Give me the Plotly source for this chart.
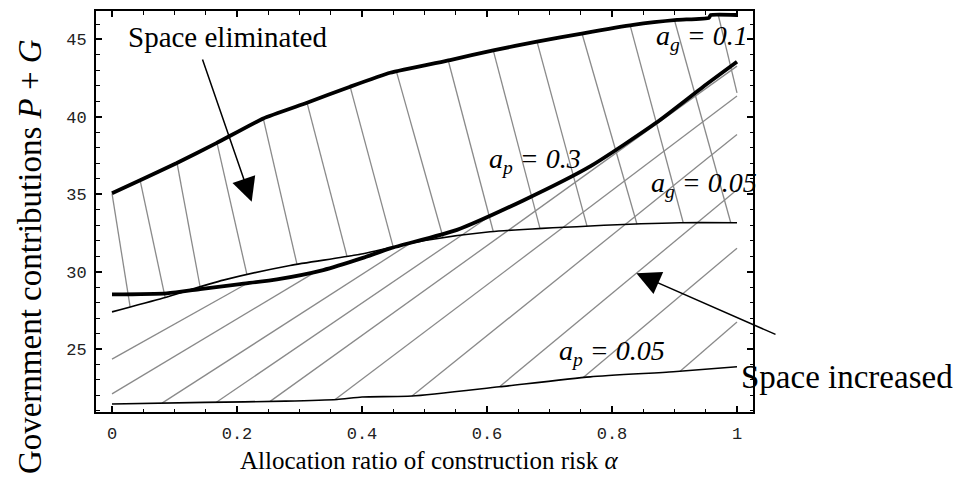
import numpy as np
import plotly.graph_objects as go

# ---------------- data ----------------
# upper thick curve  a_g = 0.1
alpha_ag01 = [0.0, 0.045, 0.103, 0.167, 0.242, 0.311, 0.381, 0.445, 0.541, 0.61, 0.68, 0.754, 0.834, 0.904, 0.955, 0.958, 1.0]
pg_ag01 = [35.06, 35.9, 37.0, 38.3, 39.9, 40.9, 41.95, 42.85, 43.67, 44.3, 44.86, 45.4, 45.94, 46.26, 46.4, 46.58, 46.58]

# thick curve a_p = 0.3
alpha_ap03 = [0.0, 0.0875, 0.141, 0.205, 0.264, 0.338, 0.40, 0.445, 0.552, 0.658, 0.765, 0.87, 0.946, 1.0]
pg_ap03 = [28.53, 28.6, 28.87, 29.2, 29.5, 30.1, 30.87, 31.5, 32.7, 34.6, 36.8, 39.6, 41.95, 43.56]

# thin curve a_g = 0.05
alpha_ag005 = [0.0, 0.082, 0.178, 0.285, 0.39, 0.498, 0.605, 0.765, 0.909, 1.0]
pg_ag005 = [27.4, 28.3, 29.45, 30.4, 31.07, 32.0, 32.58, 32.95, 33.16, 33.16]

# thin curve a_p = 0.05
alpha_ap005 = [0.0, 0.149, 0.277, 0.36, 0.40, 0.48, 0.62, 0.765, 0.898, 1.0]
pg_ap005 = [21.45, 21.55, 21.63, 21.74, 21.9, 21.96, 22.56, 23.2, 23.53, 23.85]

# steep hatching ("space eliminated"): alpha where each line meets a_g=0.1 and a_g=0.05
hatch_elim_top = [0.0, 0.045, 0.104, 0.168, 0.242, 0.312, 0.381, 0.455, 0.538, 0.61, 0.68, 0.752, 0.829, 0.9, 0.97]
hatch_elim_bot = [0.029, 0.085, 0.141, 0.216, 0.296, 0.376, 0.45, 0.53, 0.61, 0.685, 0.76, 0.84, 0.914, 0.99, 1.05]

# rising hatching ("space increased"): start alpha, start value (None = on a_p=0.05), slope (per unit alpha)
hatch_inc_start_alpha = [0.0, 0.0, 0.08, 0.167, 0.253, 0.357, 0.48, 0.62, 0.754, 0.909]
hatch_inc_start_pg = [24.35, 22.1, None, None, None, None, None, None, None, None]
hatch_inc_slope = [22.6, 24.2, 26.0, 27.5, 29.0, 30.5, 32.5, 33.5, 34.0, 35.0]

x_tickvals = [0, 0.2, 0.4, 0.6, 0.8, 1]
y_tickvals = [25, 30, 35, 40, 45]

# ---------------- build hatch segments ----------------
def interp(xs, ys, x):
    return float(np.interp(x, xs, ys))

hx, hy = [], []
for xt, xb in zip(hatch_elim_top, hatch_elim_bot):
    yt = interp(alpha_ag01, pg_ag01, xt)
    yb = interp(alpha_ag005, pg_ag005, xb)
    if xb > 1.0:
        t = (1.0 - xt) / (xb - xt)
        yb = yt + t * (yb - yt)
        xb = 1.0
    hx += [xt, xb, None]
    hy += [yt, yb, None]

grid = np.linspace(0, 1, 2001)
thick = np.interp(grid, alpha_ap03, pg_ap03)
for xs, ys, m in zip(hatch_inc_start_alpha, hatch_inc_start_pg, hatch_inc_slope):
    if ys is None:
        ys = interp(alpha_ap005, pg_ap005, xs)
    mask = grid >= xs
    g = grid[mask]
    line = ys + m * (g - xs)
    above = np.nonzero(line >= thick[mask])[0]
    xe = float(g[above[0]]) if len(above) else 1.0
    ye = ys + m * (xe - xs)
    hx += [xs, xe, None]
    hy += [ys, ye, None]

fig = go.Figure()
fig.add_trace(go.Scatter(x=hx, y=hy, mode="lines", line=dict(color="#8a8a8a", width=1.3),
                         hoverinfo="skip", showlegend=False))
fig.add_trace(go.Scatter(x=alpha_ap005, y=pg_ap005, mode="lines",
                         line=dict(color="black", width=1.6, shape="spline", smoothing=0.6), showlegend=False))
fig.add_trace(go.Scatter(x=alpha_ag005, y=pg_ag005, mode="lines",
                         line=dict(color="black", width=1.6, shape="spline", smoothing=0.6), showlegend=False))
fig.add_trace(go.Scatter(x=alpha_ap03, y=pg_ap03, mode="lines",
                         line=dict(color="black", width=3.8, shape="spline", smoothing=0.6), showlegend=False))
fig.add_trace(go.Scatter(x=alpha_ag01, y=pg_ag01, mode="lines",
                         line=dict(color="black", width=3.8, shape="spline", smoothing=0.4), showlegend=False))

serif = "Liberation Serif, Times New Roman, serif"
ann = []
def text(x, y, s, size, xanchor="center", xref="x", yref="y", angle=0):
    ann.append(dict(x=x, y=y, xref=xref, yref=yref, text=s, showarrow=False, xanchor=xanchor,
                    yanchor="middle", textangle=angle, font=dict(family=serif, size=size, color="black")))

text(0.184, 45.16, "Space eliminated", 29)
text(1.003, 23.18, "Space increased", 33, xanchor="left")
text(0.944, 45.1, "<i>a<sub>g</sub> = 0.1</i>", 28)
text(0.677, 37.2, "<i>a<sub>p</sub> = 0.3</i>", 28)
text(0.947, 35.6, "<i>a<sub>g</sub> = 0.05</i>", 28)
text(0.80, 24.8, "<i>a<sub>p</sub> = 0.05</i>", 28)
text(0.508, -0.12, "Allocation ratio of construction risk <i>α</i>", 25, xref="paper", yref="paper")
text(-0.1, 0.387, "Government contributions <i>P</i> + <i>G</i>", 33, xref="paper", yref="paper", angle=-90)

ann.append(dict(x=0.2235, y=34.51, ax=0.144, ay=43.8, xref="x", yref="y", axref="x", ayref="y",
                text="", showarrow=True, arrowhead=2, arrowsize=3.2, arrowwidth=1.5, arrowcolor="black", standoff=0))
ann.append(dict(x=0.839, y=29.89, ax=1.064, ay=25.9, xref="x", yref="y", axref="x", ayref="y",
                text="", showarrow=True, arrowhead=2, arrowsize=3.2, arrowwidth=1.5, arrowcolor="black", standoff=0))

tickfont = dict(family="Liberation Mono, Courier New, monospace", size=17, color="#222222")
fig.update_layout(
    width=965, height=486,
    margin=dict(l=96, r=212, t=11, b=74, autoexpand=False),
    paper_bgcolor="white", plot_bgcolor="white",
    annotations=ann,
    xaxis=dict(range=[-0.0256, 1.0256], tickvals=x_tickvals, ticks="inside", ticklen=6, tickwidth=1.5,
               tickcolor="black", showline=True, linewidth=2, linecolor="black", mirror="allticks",
               showgrid=False, zeroline=False, tickfont=tickfont, ticklabelstandoff=5, automargin=False,
               minor=dict(dtick=0.05, ticks="inside", ticklen=3.5, tickwidth=1.3, tickcolor="black", showgrid=False)),
    yaxis=dict(range=[20.93, 46.84], tickvals=y_tickvals, ticks="inside", ticklen=6, tickwidth=1.5,
               tickcolor="black", showline=True, linewidth=2, linecolor="black", mirror="allticks",
               showgrid=False, zeroline=False, tickfont=tickfont, ticklabelstandoff=4, automargin=False,
               minor=dict(dtick=1, ticks="inside", ticklen=3.5, tickwidth=1.3, tickcolor="black", showgrid=False)),
)
fig.write_html("out.html", config={"displayModeBar": False},
               post_script="document.body.style.margin='0';document.body.style.overflow='hidden';")
